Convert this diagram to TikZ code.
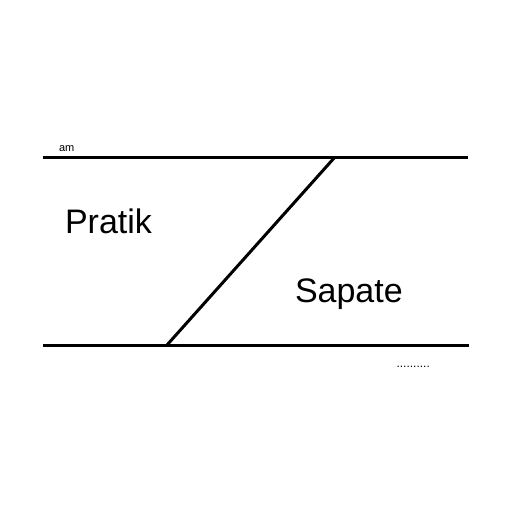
\documentclass[tikz,border=0pt]{standalone}
\usepackage{fontspec}
\setmainfont{Liberation Sans}
\begin{document}
\begin{tikzpicture}[x=1pt, y=-1pt, line width=3pt,
    lbl/.style={inner sep=0pt, anchor=base west}]
    \useasboundingbox (0,0) rectangle (512,512);

    % Rails
    \coordinate (topL) at (43,157);
    \coordinate (topR) at (468,157);
    \coordinate (botL) at (43,345);
    \coordinate (botR) at (469,345);
    \coordinate (slashT) at (335,157);
    \coordinate (slashB) at (167,345);
    \draw (topL) -- (topR);
    \draw (botL) -- (botR);

    % Diagonal
    \draw (slashB) -- (slashT);

    % Labels
    \node[lbl, font=\fontsize{11}{12}\selectfont] (am) at (57.5,151) {am};
    \node[lbl, font=\fontsize{34}{38}\selectfont] (pratik) at (63.5,233) {Pratik};
    \node[lbl, font=\fontsize{34}{38}\selectfont] (sapate) at (293.5,302) {Sapate};
    \node[lbl, font=\fontsize{12}{13}\selectfont] (dots) at (395,367) {..........};
\end{tikzpicture}
\end{document}
